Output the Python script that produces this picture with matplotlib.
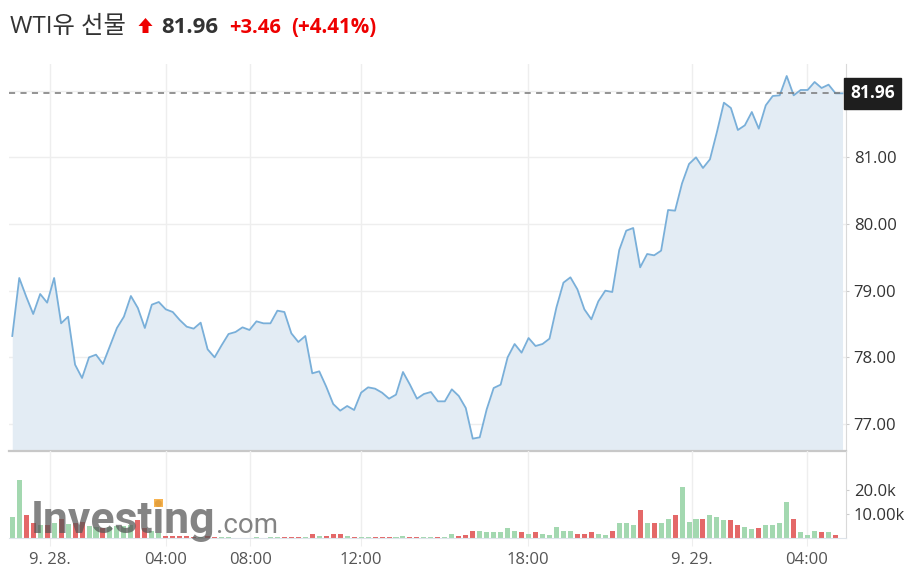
import matplotlib
matplotlib.use("Agg")
import matplotlib.pyplot as plt
from matplotlib.patches import Polygon, Rectangle

plt.rcParams['font.family'] = ['Open Sans', 'Noto Sans CJK KR', 'DejaVu Sans']

# ---------------- data ----------------
prices = [
    78.32, 79.19, 78.91, 78.65, 78.95, 78.82, 79.19, 78.51, 78.61, 77.89,
    77.69, 78.00, 78.04, 77.90, 78.17, 78.44, 78.61, 78.92, 78.74, 78.44,
    78.79, 78.83, 78.72, 78.68, 78.56, 78.46, 78.43, 78.52, 78.12, 78.00,
    78.18, 78.35, 78.38, 78.45, 78.41, 78.54, 78.51, 78.51, 78.70, 78.68,
    78.36, 78.23, 78.32, 77.76, 77.79, 77.56, 77.30, 77.20, 77.27, 77.21,
    77.47, 77.55, 77.53, 77.47, 77.38, 77.44, 77.78, 77.59, 77.38, 77.45,
    77.48, 77.34, 77.34, 77.52, 77.42, 77.24, 76.78, 76.80, 77.22, 77.54,
    77.59, 78.00, 78.20, 78.07, 78.29, 78.17, 78.20, 78.28, 78.75, 79.12,
    79.20, 79.02, 78.72, 78.57, 78.84, 79.00, 78.98, 79.61, 79.90, 79.94,
    79.35, 79.55, 79.53, 79.60, 80.21, 80.20, 80.61, 80.90, 81.00, 80.84,
    80.97, 81.38, 81.82, 81.74, 81.41, 81.48, 81.68, 81.43, 81.78, 81.92,
    81.93, 82.22, 81.93, 82.01, 82.01, 82.13, 82.04, 82.09, 81.96, 81.96,
]

volumes_k = [
    8.6, 24.2, 9.7, 6.2, 5.5, 5.5, 6.2, 8.0, 6.0, 6.2,
    6.5, 5.0, 4.5, 4.0, 4.5, 5.0, 4.8, 5.5, 7.6, 4.0,
    3.0, 2.0, 1.0, 0.8, 0.8, 0.7, 0.6, 0.5, 0.8, 0.5,
    0.3, 0.3, 0.2, 0.2, 0.2, 0.3, 0.2, 0.3, 0.4, 0.3,
    0.5, 0.6, 0.5, 1.5, 0.8, 0.8, 1.5, 1.5, 0.8, 0.4,
    0.5, 0.5, 0.3, 0.3, 0.4, 0.3, 0.8, 0.4, 0.5, 0.6,
    0.4, 0.3, 0.4, 1.65, 0.7, 1.1, 3.0, 3.0, 2.35, 2.35,
    2.35, 4.1, 3.0, 2.35, 1.65, 2.35, 1.65, 1.1, 4.7, 3.0,
    3.0, 1.65, 1.65, 2.35, 1.65, 1.1, 3.0, 6.1, 6.1, 5.5,
    11.7, 6.1, 6.1, 6.1, 7.9, 9.7, 21.0, 6.8, 7.9, 7.9,
    9.7, 8.6, 7.3, 7.3, 5.5, 4.7, 3.6, 4.1, 5.5, 5.5,
    6.1, 14.8, 7.9, 2.35, 1.1, 3.0, 2.35, 2.35, 1.1, 0.0,
]

# 1 = up (green), 0 = down (red)
volume_up = [
    1, 1, 0, 0, 1, 0, 1, 0, 1, 0,
    0, 1, 1, 0, 1, 1, 1, 1, 0, 0,
    1, 1, 0, 0, 0, 0, 0, 1, 0, 0,
    1, 1, 1, 1, 0, 1, 0, 1, 1, 0,
    0, 0, 1, 0, 1, 0, 0, 0, 1, 0,
    1, 1, 0, 0, 0, 1, 1, 0, 0, 1,
    1, 0, 1, 1, 0, 0, 0, 1, 1, 1,
    1, 1, 1, 0, 1, 0, 1, 1, 1, 1,
    1, 0, 0, 0, 1, 1, 0, 1, 1, 1,
    0, 1, 0, 1, 1, 0, 1, 1, 1, 0,
    1, 1, 1, 0, 0, 1, 1, 0, 1, 1,
    1, 1, 0, 1, 1, 1, 0, 1, 0, 1,
]

x_tick_pos = [5.4, 22.0, 34.1, 50.0, 73.9, 97.4, 113.9]
x_tick_labels = ['9. 28.', '04:00', '08:00', '12:00', '18:00', '9. 29.', '04:00']
price_ticks = [77, 78, 79, 80, 81]
price_tick_labels = ['77.00', '78.00', '79.00', '80.00', '81.00']
vol_ticks = [10, 20]
vol_tick_labels = ['10.00k', '20.0k']

last_price = 81.96
title_name = 'WTI유 선물'
title_price = '81.96'
title_change = '+3.46'
title_pct = '(+4.41%)'

# ---------------- figure ----------------
W, H = 923, 580
fig = plt.figure(figsize=(W / 100, H / 100), dpi=100)
fig.patch.set_facecolor('white')

def fx(px):
    return px / W

def fy(py):
    return 1 - py / H

left, right = 9, 846
ax = fig.add_axes([fx(left), fy(451), fx(right) - fx(left), fy(64) - fy(451)])
axv = fig.add_axes([fx(left), fy(538), fx(right) - fx(left), fy(451) - fy(538)], sharex=ax)

x = list(range(len(prices)))
ymin, ymax = 76.595, 82.40

grid_c = '#eeeeee'
for t in x_tick_pos:
    ax.axvline(t, color=grid_c, lw=1.0, zorder=0)
    axv.axvline(t, color=grid_c, lw=1.0, zorder=0)
for t in price_ticks + [82]:
    ax.axhline(t, color=grid_c, lw=1.0, zorder=0)

ax.fill_between(x, prices, ymin, color='#e3ecf4', zorder=1, lw=0)
ax.plot(x, prices, color='#79afd9', lw=1.3, zorder=2)
ax.axhline(last_price, color='#777777', lw=1.1, ls=(0, (4, 3.5)), zorder=3)

ax.set_xlim(-0.47, 119.5)
ax.set_ylim(ymin, ymax)

for a in (ax, axv):
    for s in ('top', 'left'):
        a.spines[s].set_visible(False)
    a.spines['right'].set_color('#d9d9d9')
    a.set_facecolor('none')

ax.spines['bottom'].set_color('#c8c8c8')
ax.spines['bottom'].set_linewidth(1.6)

ax.yaxis.tick_right()
ax.set_yticks(price_ticks)
ax.set_yticklabels(price_tick_labels)
ax.tick_params(axis='y', length=2.5, pad=3, colors='#cccccc', labelcolor='#333333', labelsize=12)
ax.tick_params(axis='x', bottom=False, labelbottom=False)

# volume
bar_colors = ['#a3d8b0' if u else '#e46868' for u in volume_up]
axv.bar(x, volumes_k, width=0.72, color=bar_colors, zorder=1)
axv.set_ylim(0, 36)
axv.yaxis.tick_right()
axv.set_yticks(vol_ticks)
axv.set_yticklabels(vol_tick_labels)
axv.tick_params(axis='y', length=2.5, pad=3, colors='#cccccc', labelcolor='#333333', labelsize=12)
axv.spines['bottom'].set_color('#dde3ea')
axv.set_xticks(x_tick_pos)
axv.set_xticklabels(x_tick_labels)
axv.tick_params(axis='x', length=6, pad=4, colors='#eeeeee', labelcolor='#555555', labelsize=12)

# last price box
ax.text(1.0 + 4.5 / (right - left), last_price, title_price, transform=ax.get_yaxis_transform(),
        ha='left', va='center', color='white', fontsize=12.5, fontweight='bold', zorder=10,
        clip_on=False,
        bbox=dict(boxstyle='square,pad=0.36', fc='#1e1e1e', ec='#1e1e1e'))

# watermark
fig.text(fx(31), fy(533), 'Investing', fontsize=32, fontweight='bold', family='Roboto',
         color='#555555', alpha=0.72, va='baseline', ha='left', zorder=20)
fig.text(fx(216), fy(533), '.com', fontsize=20, family='Roboto',
         color='#555555', alpha=0.72, va='baseline', ha='left', zorder=20)
fig.patches.append(Rectangle((fx(154), fy(507)), fx(9), 8 / H, transform=fig.transFigure,
                             facecolor='#f6a631', edgecolor='none', alpha=0.85, zorder=21))

# title row
fig.text(fx(10), fy(33), title_name, fontsize=17.5, color='#333333', va='baseline', ha='left')
arrow = [(138.5, 26), (145.5, 18), (152.5, 26), (148.5, 26), (148.5, 33), (142.5, 33), (142.5, 26)]
fig.patches.append(Polygon([(fx(a), fy(b)) for a, b in arrow], closed=True,
                           transform=fig.transFigure, facecolor='#ee0000', edgecolor='none'))
fig.text(fx(161), fy(33), title_price, fontsize=16, fontweight='bold', color='#333333',
         va='baseline', ha='left')
fig.text(fx(229), fy(33), title_change, fontsize=14.5, fontweight='bold', color='#ee0000',
         va='baseline', ha='left')
fig.text(fx(291), fy(33), title_pct, fontsize=14.8, fontweight='bold', color='#ee0000',
         va='baseline', ha='left')

fig.savefig('out.png', dpi=100, facecolor='white')
